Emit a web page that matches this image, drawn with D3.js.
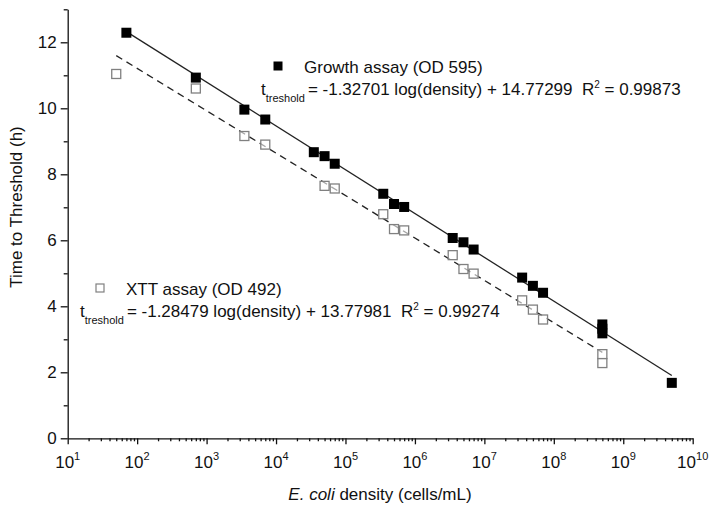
<!DOCTYPE html>
<html>
<head>
<meta charset="utf-8">
<script src="https://cdn.jsdelivr.net/npm/d3@7"></script>
<style>
  body { margin: 0; background: #fff; }
  text { font-family: "Liberation Sans", Arial, sans-serif; fill: #111; }
</style>
</head>
<body>
<svg id="chart"></svg>
<script>
let width = 709;
let height = 506;

// Growth assay (OD 595), filled squares
let growthDensity = [7e1, 7e2, 3.5e3, 7e3, 3.5e4, 5e4, 7e4, 3.5e5, 5e5, 7e5, 3.5e6, 5e6, 7e6, 3.5e7, 5e7, 7e7, 5e8, 5e8, 5e8, 5e9];
let growthTime = [12.29, 10.93, 9.96, 9.66, 8.67, 8.55, 8.32, 7.41, 7.1, 7.01, 6.07, 5.94, 5.72, 4.87, 4.62, 4.41, 3.45, 3.32, 3.18, 1.68];

// XTT assay (OD 492), open squares
let xttDensity = [5e1, 7e2, 3.5e3, 7e3, 5e4, 7e4, 3.5e5, 5e5, 7e5, 3.5e6, 5e6, 7e6, 3.5e7, 5e7, 7e7, 5e8, 5e8];
let xttTime = [11.04, 10.6, 9.16, 8.9, 7.65, 7.57, 6.79, 6.34, 6.3, 5.55, 5.13, 4.99, 4.18, 3.9, 3.6, 2.55, 2.28];

// linear fits against log10(density)
let growthFit = { slope: -1.32701, intercept: 14.77299, from: 7e1, to: 5e9 };
let xttFit = { slope: -1.28479, intercept: 13.77981, from: 5e1, to: 5e8 };

let xExponents = [1, 2, 3, 4, 5, 6, 7, 8, 9, 10];
let yMajor = [0, 2, 4, 6, 8, 10, 12];
let yMinor = [1, 3, 5, 7, 9, 11, 13];

let svg = d3.select("#chart")
    .attr("width", width)
    .attr("height", height);

let x = d3.scaleLog()
    .domain([1e1, 1e10])
    .range([67.7, 692.7]);

let y = d3.scaleLinear()
    .domain([0, 13])
    .range([438.3, 9.3]);

// ---- axes ----
let xMinor = [];
for (let e = 1; e < 10; e++) {
    for (let m = 2; m <= 9; m++) xMinor.push(m * Math.pow(10, e));
}

let xAxisG = svg.append("g").attr("transform", "translate(0," + y(0) + ")");
xAxisG.append("g").call(d3.axisBottom(x).tickValues(xExponents.map(e => Math.pow(10, e))).tickFormat("").tickSize(6).tickSizeOuter(0));
xAxisG.append("g").call(d3.axisBottom(x).tickValues(xMinor).tickFormat("").tickSize(3).tickSizeOuter(0))
    .select(".domain").remove();

// decade labels with superscript exponent
xExponents.forEach(e => {
    let t = xAxisG.append("text")
        .attr("x", x(Math.pow(10, e)))
        .attr("y", 30)
        .attr("text-anchor", "middle")
        .style("font-size", "17px");
    t.append("tspan").text("10");
    t.append("tspan")
        .attr("dy", -8)
        .style("font-size", "11px")
        .text(e);
});

let yAxisG = svg.append("g").attr("transform", "translate(" + x(1e1) + ",0)");
yAxisG.append("g").call(d3.axisLeft(y).tickValues(yMajor).tickSize(7).tickPadding(4).tickSizeOuter(0));
yAxisG.append("g").call(d3.axisLeft(y).tickValues(yMinor).tickFormat("").tickSize(4).tickSizeOuter(0))
    .select(".domain").remove();
yAxisG.selectAll(".tick text").style("font-size", "17px").attr("fill", "#111");

svg.selectAll(".domain, .tick line").attr("stroke", "#111").attr("stroke-width", 1.3);

// axis titles
svg.append("text")
    .attr("transform", "translate(22,207) rotate(-90)")
    .attr("text-anchor", "middle")
    .style("font-size", "17px")
    .text("Time to Threshold (h)");

let xTitle = svg.append("text")
    .attr("x", 380)
    .attr("y", 500)
    .attr("text-anchor", "middle")
    .style("font-size", "17px");
xTitle.append("tspan").style("font-style", "italic").text("E. coli");
xTitle.append("tspan").text(" density (cells/mL)");

// ---- fit lines ----
function fitPoints(fit) {
    return [fit.from, fit.to].map(d => [d, fit.intercept + fit.slope * Math.log10(d)]);
}

let line = d3.line().x(d => x(d[0])).y(d => y(d[1]));

svg.append("path")
    .attr("d", line(fitPoints(growthFit)))
    .attr("fill", "none")
    .attr("stroke", "#222")
    .attr("stroke-width", 1.3);

svg.append("path")
    .attr("d", line(fitPoints(xttFit)))
    .attr("fill", "none")
    .attr("stroke", "#222")
    .attr("stroke-width", 1.3)
    .attr("stroke-dasharray", "7,5");

// ---- markers ----
let growthData = growthDensity.map((d, i) => ({ x: d, y: growthTime[i] }));
let xttData = xttDensity.map((d, i) => ({ x: d, y: xttTime[i] }));

let filledSize = 10;
let openSize = 9;

svg.append("g").selectAll("rect")
    .data(xttData)
    .enter()
    .append("rect")
    .attr("x", d => x(d.x) - openSize / 2)
    .attr("y", d => y(d.y) - openSize / 2)
    .attr("width", openSize)
    .attr("height", openSize)
    .attr("fill", "#fff")
    .attr("fill-opacity", 0.6)
    .attr("stroke", "#808080")
    .attr("stroke-width", 1.3);

svg.append("g").selectAll("rect")
    .data(growthData)
    .enter()
    .append("rect")
    .attr("x", d => x(d.x) - filledSize / 2)
    .attr("y", d => y(d.y) - filledSize / 2)
    .attr("width", filledSize)
    .attr("height", filledSize)
    .attr("fill", "#000");

// ---- legends / equations ----
function drawLegend(lx, ly, filled, label, eqX, eqY, fit, r2) {
    let s = filled ? 9 : 8;
    svg.append("rect")
        .attr("x", lx - s / 2)
        .attr("y", ly - s / 2)
        .attr("width", s)
        .attr("height", s)
        .attr("fill", filled ? "#000" : "#fff")
        .attr("stroke", filled ? "none" : "#808080")
        .attr("stroke-width", 1.2);
    svg.append("text")
        .attr("x", lx + 26)
        .attr("y", ly + 7)
        .style("font-size", "17px")
        .text(label);

    let eq = svg.append("text")
        .attr("x", eqX)
        .attr("y", eqY)
        .style("font-size", "17px");
    eq.append("tspan").text("t");
    eq.append("tspan").attr("dy", 7).style("font-size", "11px").text("treshold");
    eq.append("tspan").attr("dy", -7).attr("dx", 3)
        .text("= " + fit.slope.toFixed(5) + " log(density) + " + fit.intercept.toFixed(5) + "\u00A0\u00A0R");
    eq.append("tspan").attr("dy", -7).style("font-size", "10px").text("2");
    eq.append("tspan").attr("dy", 7).text("\u00A0= " + r2);
}

drawLegend(278, 66, true, "Growth assay (OD 595)", 261, 95, growthFit, "0.99873");
drawLegend(100, 288, false, "XTT assay (OD 492)", 80, 317, xttFit, "0.99274");
</script>
</body>
</html>
